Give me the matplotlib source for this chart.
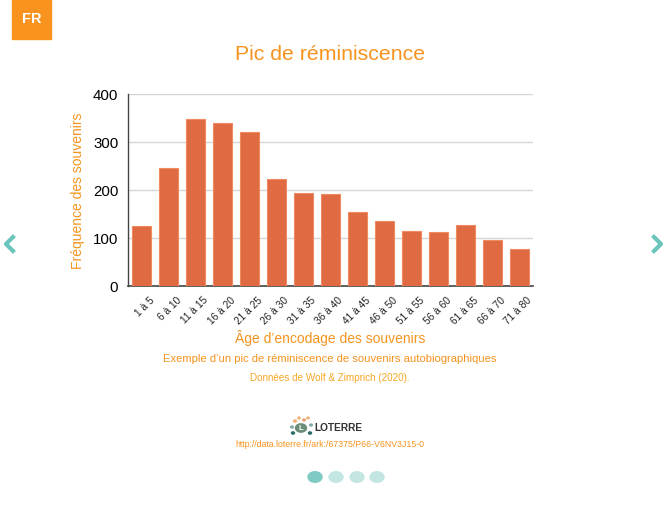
import matplotlib
matplotlib.use("Agg")
import matplotlib.pyplot as plt
from matplotlib.patches import Rectangle, Circle
from matplotlib.lines import Line2D

categories = ["1 à 5", "6 à 10", "11 à 15", "16 à 20", "21 à 25", "26 à 30", "31 à 35",
              "36 à 40", "41 à 45", "46 à 50", "51 à 55", "56 à 60", "61 à 65", "66 à 70", "71 à 80"]
frequences = [124, 245, 347, 339, 321, 222, 194, 191, 155, 135, 115, 112, 128, 96, 77]
yticks = [0, 100, 200, 300, 400]

ORANGE = "#F7931E"
BAR = "#E06A42"
TEAL = "#6CC4BC"
FONT = ["Liberation Sans", "DejaVu Sans"]
plt.rcParams['font.family'] = FONT

fig = plt.figure(figsize=(6.71, 5.06), dpi=100)
W, H = 671, 506

def fx(px):
    return px / W

def fy(py):
    return 1 - py / H

ax = fig.add_axes([fx(128), fy(287), fx(533) - fx(128), fy(95) - fy(287)])
x = list(range(len(categories)))
ax.bar(x, frequences, width=0.7, color=BAR, edgecolor="#F08A60", linewidth=0.8, zorder=3)
ax.set_xlim(-0.5, len(categories) - 0.5)
ax.set_ylim(0, 400)
ax.set_yticks(yticks)
ax.set_yticklabels([str(v) for v in yticks], fontsize=10.8, color="#000000")
ax.set_xticks(x)
ax.set_xticklabels([])
for i, cat in zip(x, categories):
    ax.annotate(cat, xy=(i, 0), xycoords=("data", "axes fraction"), xytext=(5.3, -6),
                textcoords="offset points", rotation=45, ha="right", va="top",
                rotation_mode="anchor", fontsize=7.3, color="#222222")
ax.tick_params(axis="both", length=0, pad=7)
ax.grid(axis="y", color="#D6D6D6", linewidth=1, zorder=0)
for s in ["top", "right"]:
    ax.spines[s].set_visible(False)
ax.spines["left"].set_color("#444444")
ax.spines["bottom"].set_color("#444444")
ax.spines["left"].set_linewidth(1)
ax.spines["bottom"].set_linewidth(1.2)
ax.set_ylabel("Fréquence des souvenirs", color=ORANGE, fontsize=10)
ax.yaxis.set_label_coords((85 - 128) / 405, 0.5)

# title and texts
fig.text(fx(330), fy(55), "Pic de réminiscence", color=ORANGE, fontsize=15.3, ha="center", va="center")
fig.text(fx(330), fy(338), "Âge d\u2019encodage des souvenirs", color=ORANGE, fontsize=10, ha="center", va="center")
fig.text(fx(330), fy(359), "Exemple d\u2019un pic de réminiscence de souvenirs autobiographiques",
         color=ORANGE, fontsize=8.1, ha="center", va="center")
fig.text(fx(330), fy(378), "Données de Wolf & Zimprich (2020).", color="#F5A623", fontsize=7.1,
         ha="center", va="center")

# FR badge
fig.patches.append(Rectangle((fx(12), fy(40)), fx(51) - fx(12), fy(0) - fy(40),
                             transform=fig.transFigure, color=ORANGE, zorder=1))
fig.text(fx(31.5), fy(19), "FR", color="white", fontsize=10.5, fontweight="bold", ha="center", va="center")

# logo
for (px, py, c, r) in [(295, 422, "#F2B27A", 1.5), (299, 419, "#F2B27A", 1.2), (304, 421, "#E8A070", 1.3),
                       (308, 419, "#F2B27A", 1.2), (292, 428, "#7FA9A5", 1.3), (311, 426, "#7FA9A5", 1.3),
                       (293, 434, "#2E6E6A", 1.5), (310, 434, "#2E6E6A", 1.5)]:
    fig.patches.append(Circle((fx(px), fy(py)), r / W, transform=fig.transFigure, color=c))
fig.patches.append(Circle((fx(301), fy(429)), 5.5 / W, transform=fig.transFigure, color="#6A8E78"))
fig.text(fx(301), fy(429), "L", color="white", fontsize=5.5, fontweight="bold", ha="center", va="center")
fig.text(fx(314), fy(428), "LOTERRE", color="#333333", fontsize=7.3, fontweight="bold", ha="left", va="center")
fig.text(fx(330), fy(445), "http://data.loterre.fr/ark:/67375/P66-V6NV3J15-0", color=ORANGE, fontsize=6.3,
         ha="center", va="center")

# pager dots
for i, px in enumerate([315, 336, 357, 377]):
    fig.patches.append(Circle((fx(px), fy(478)), 7 / W, transform=fig.transFigure,
                              color="#7FCBC4" if i == 0 else "#C4E6E2"))

# arrows
fig.lines.append(Line2D([fx(13), fx(6), fx(13)], [fy(238), fy(245), fy(252)], transform=fig.transFigure,
                        color=TEAL, linewidth=3))
fig.lines.append(Line2D([fx(654), fx(661), fx(654)], [fy(238), fy(245), fy(252)], transform=fig.transFigure,
                        color=TEAL, linewidth=3))

fig.savefig("out.png", dpi=100)
